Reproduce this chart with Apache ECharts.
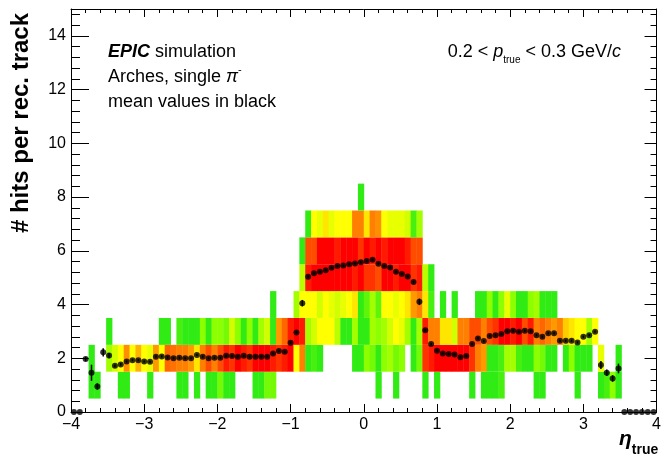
<!DOCTYPE html>
<html><head><meta charset="utf-8">
<script src="https://cdn.jsdelivr.net/npm/echarts@6/dist/echarts.min.js"></script>
<style>html,body{margin:0;padding:0;background:#fff}#c{width:664px;height:460px}</style>
</head><body><div id="c"></div>
<script>
const _ = null;
// x binning of the 2D histogram / profile (eta_true)
const binLow = -4, binWidth = 0.08;
// y rows (number of hits), cells centred on integers
const rowHits = [1, 2, 3, 4, 5, 6, 7, 8];

// relative cell occupancy (0 = green ... 1 = red), one array per hit row, 100 eta bins
const row1 = [
 _,_,_,.05,.05,_,_,_,.05,.05,
 _,_,_,.05,_,_,_,_,.05,.05,
 _,.05,_,.05,.05,.2,.05,.05,_,_,
 _,.05,.05,.2,.2,_,_,_,_,_,
 _,_,_,_,_,_,_,_,_,_,
 _,_,.05,_,_,.05,_,_,_,_,
 .05,_,.05,_,_,_,_,_,.05,_,
 .05,.05,.05,.1,_,_,_,_,_,.05,
 .05,_,_,_,_,_,.05,_,_,_,
 .05,.1,.25,.05,_,_,_,_,_,_];
const row2 = [
 _,_,_,.05,_,_,.3,.4,.5,.72,
 .5,.65,.5,.45,.7,.5,.8,.78,.75,.75,
 .7,.55,.75,.85,.75,.85,.95,.9,1,.95,
 .9,1,1,1,.95,.9,.95,1,.5,.75,
 .05,.1,.05,_,_,_,_,_,.05,.05,
 .25,.2,.05,.25,.3,.2,.25,_,.05,.2,
 .9,.95,1,1,1,1,1,1,.9,.75,
 .7,.05,.05,.1,.3,.3,.1,.05,.05,.25,
 .2,.05,.05,_,.05,.25,.05,.05,.05,_,
 .45,_,_,.05,_,_,_,_,_,_];
const row3 = [
 _,_,_,_,_,_,.05,_,_,_,
 _,_,_,_,_,.05,.05,_,.1,.05,
 .05,.05,.25,.05,.25,.25,.2,.4,.25,.05,
 .25,.05,.3,.4,.05,.7,.8,.95,1,.95,
 .3,.4,.5,.5,.5,.35,.05,.05,.3,.05,
 .05,.3,.25,.3,.4,.5,.45,.3,.05,.3,
 .95,.75,.75,.55,.55,.4,.75,.75,.85,.85,
 .75,.85,.9,1,1,.95,1,.85,.95,.75,
 .8,.75,.7,.75,.6,.55,.5,.5,.3,.5,
 _,_,_,_,_,_,_,_,_,_];
const row4 = [
 _,_,_,_,_,_,_,_,_,_,
 _,_,_,_,_,_,_,_,_,_,
 _,_,_,_,_,_,_,_,_,_,
 _,_,_,_,.05,_,_,_,.3,.5,
 .5,.5,.4,.5,.45,.4,.45,.5,.55,.05,
 .15,.3,.15,.5,.5,.45,.5,.55,.7,.75,
 .55,.1,_,.05,_,.05,_,_,_,.05,
 .05,.25,.05,.25,.45,.25,.05,.05,.25,.3,
 .05,.05,.05,_,_,_,_,_,_,_,
 _,_,_,_,_,_,_,_,_,_];
const row5 = [
 _,_,_,_,_,_,_,_,_,_,
 _,_,_,_,_,_,_,_,_,_,
 _,_,_,_,_,_,_,_,_,_,
 _,_,_,_,_,_,_,_,_,.35,
 .95,1,1,1,1,1,1,1,.95,1,
 .9,.9,.85,1,1,.95,1,1,.9,.95,
 .35,.05,_,_,_,_,_,_,_,_,
 _,_,_,_,_,_,_,_,_,_,
 _,_,_,_,_,_,_,_,_,_,
 _,_,_,_,_,_,_,_,_,_];
const row6 = [
 _,_,_,_,_,_,_,_,_,_,
 _,_,_,_,_,_,_,_,_,_,
 _,_,_,_,_,_,_,_,_,_,
 _,_,_,_,_,_,_,_,_,.05,
 .85,.85,1,1,1,.95,1,1,1,.9,
 1,.95,1,.95,1,1,1,.95,.85,.85,
 _,_,_,_,_,_,_,_,_,_,
 _,_,_,_,_,_,_,_,_,_,
 _,_,_,_,_,_,_,_,_,_,
 _,_,_,_,_,_,_,_,_,_];
const row7 = [
 _,_,_,_,_,_,_,_,_,_,
 _,_,_,_,_,_,_,_,_,_,
 _,_,_,_,_,_,_,_,_,_,
 _,_,_,_,_,_,_,_,_,_,
 .05,.5,.45,.55,.45,.5,.5,.5,.75,.75,
 .55,.75,.72,.5,.45,.45,.45,.4,.1,.3,
 _,_,_,_,_,_,_,_,_,_,
 _,_,_,_,_,_,_,_,_,_,
 _,_,_,_,_,_,_,_,_,_,
 _,_,_,_,_,_,_,_,_,_];
const row8 = [
 _,_,_,_,_,_,_,_,_,_,
 _,_,_,_,_,_,_,_,_,_,
 _,_,_,_,_,_,_,_,_,_,
 _,_,_,_,_,_,_,_,_,_,
 _,_,_,_,_,_,_,_,_,.05,
 _,_,_,_,_,_,_,_,_,_,
 _,_,_,_,_,_,_,_,_,_,
 _,_,_,_,_,_,_,_,_,_,
 _,_,_,_,_,_,_,_,_,_,
 _,_,_,_,_,_,_,_,_,_];

// profile: mean hits per eta bin and its error
const meanHits = [
 0,0,1.97,1.46,0.95,2.22,2.10,1.72,1.77,1.88,
 1.93,1.93,1.88,1.87,2.06,2.07,2.03,2.00,2.02,2.00,
 2.00,2.12,2.06,2.00,2.02,2.02,2.09,2.08,2.06,2.09,
 2.06,2.06,2.06,2.06,2.18,2.27,2.24,2.58,2.96,4.05,
 5.03,5.16,5.22,5.28,5.37,5.43,5.45,5.50,5.53,5.57,
 5.62,5.67,5.52,5.43,5.38,5.22,5.14,5.04,4.84,4.10,
 3.04,2.53,2.28,2.18,2.16,2.14,2.04,2.08,2.53,2.74,
 2.64,2.83,2.86,2.90,3.01,3.02,2.99,3.02,3.01,2.86,
 2.80,2.93,2.93,2.65,2.65,2.65,2.59,2.80,2.86,2.99,
 1.75,1.46,1.25,1.62,0,0,0,0,0,0];
const meanErr = [
 0,0,.08,.3,.12,.15,.1,.05,.05,.04,
 .04,.04,.04,.04,.04,.04,.04,.04,.04,.04,
 .04,.04,.04,.04,.04,.04,.04,.04,.04,.04,
 .04,.04,.04,.04,.04,.04,.04,.05,.06,.12,
 .05,.04,.04,.04,.04,.04,.04,.04,.04,.04,
 .04,.04,.04,.04,.04,.04,.04,.04,.05,.12,
 .06,.05,.04,.04,.04,.04,.04,.04,.04,.04,
 .04,.04,.04,.04,.04,.04,.04,.04,.04,.04,
 .04,.04,.04,.04,.04,.04,.04,.04,.04,.04,
 .15,.12,.12,.18,0,0,0,0,0,0];

const yTicks = [0, 2, 4, 6, 8, 10, 12, 14];
const xTicks = [-4, -3, -2, -1, 0, 1, 2, 3, 4];

const rows = [row1, row2, row3, row4, row5, row6, row7, row8];
const cells = [];
rows.forEach((row, r) => {
  const k = rowHits[r];
  row.forEach((v, j) => {
    if (v !== null) cells.push([binLow + j * binWidth, binLow + (j + 1) * binWidth, k, v]);
  });
});
const means = meanHits.map((m, j) => [binLow + (j + 0.5) * binWidth, m, meanErr[j]]);

const FONT = '"Liberation Sans", Arial, Helvetica, sans-serif';
const ctx = document.createElement('canvas').getContext('2d');
function seg(s) {
  return { font: (s.style || 'normal') + ' ' + (s.weight || 'normal') + ' ' + s.size + 'px ' + FONT };
}
function runText(x, yMid, segs, anchor) {
  let widths = segs.map(s => { ctx.font = seg(s).font; return ctx.measureText(s.t).width; });
  let total = widths.reduce((a, b) => a + b, 0);
  let cx = anchor === 'right' ? x - total : x;
  const els = [];
  segs.forEach((s, i) => {
    els.push({ type: 'text', x: cx, y: yMid + (s.dy || 0), z: 100,
      style: { text: s.t, fontSize: s.size, fontFamily: FONT, fontWeight: s.weight || 'normal',
        fontStyle: s.style || 'normal', fill: '#000', align: 'left', verticalAlign: 'middle' } });
    cx += widths[i];
  });
  return els;
}
const fmtX = v => (v < 0 ? '\u2212' + (-v) : String(v));

const graphics = [].concat(
  runText(108, 52, [{ t: 'EPIC', size: 18, weight: 'bold', style: 'italic' }, { t: ' simulation', size: 18 }]),
  runText(108, 77, [{ t: 'Arches, single ', size: 18 }, { t: 'π', size: 18, style: 'italic' }, { t: '-', size: 11, dy: -7 }]),
  runText(108, 102, [{ t: 'mean values in black', size: 18 }]),
  runText(621, 52, [{ t: '0.2 < ', size: 18 }, { t: 'p', size: 18, style: 'italic' }, { t: 'true', size: 10, dy: 8 },
    { t: ' < 0.3 GeV/', size: 18 }, { t: 'c', size: 18, style: 'italic' }], 'right'),
  runText(619, 439, [{ t: 'η', size: 21, weight: 'bold', style: 'italic' }, { t: 'true', size: 14, weight: 'bold', dy: 11 }]),
  [{ type: 'text', x: 21, y: 123, rotation: Math.PI / 2, z: 100,
     style: { text: '# hits per rec. track', fontSize: 24, fontWeight: 'bold', fontFamily: FONT,
       fill: '#000', align: 'center', verticalAlign: 'middle' } }]
);

const lineBlack = { color: '#000', width: 1 };
function xAx(pos, labels) {
  return { type: 'value', min: -4, max: 4, interval: 1, position: pos,
    axisLine: { show: true, onZero: false, lineStyle: lineBlack },
    axisTick: { show: true, inside: true, length: 8, lineStyle: lineBlack },
    minorTick: { show: true, splitNumber: 5, length: 4, lineStyle: lineBlack },
    splitLine: { show: false }, minorSplitLine: { show: false },
    axisLabel: { show: labels, margin: 5, fontSize: 16, fontFamily: FONT, color: '#000',
      formatter: v => (xTicks.indexOf(v) >= 0 ? fmtX(v) : '') } };
}
function yAx(pos, labels, major, minor) {
  return { type: 'value', min: 0, max: 15, interval: 2, position: pos,
    axisLine: { show: true, onZero: false, lineStyle: lineBlack },
    axisTick: { show: true, inside: true, length: major, lineStyle: lineBlack },
    minorTick: { show: true, splitNumber: 5, length: minor, lineStyle: lineBlack },
    splitLine: { show: false }, minorSplitLine: { show: false },
    axisLabel: { show: labels, margin: 5, fontSize: 16, fontFamily: FONT, color: '#000', showMaxLabel: false,
      formatter: v => (yTicks.indexOf(v) >= 0 ? String(v) : '') } };
}

const chart = echarts.init(document.getElementById('c'), null, { renderer: 'canvas' });
chart.setOption({
  animation: false,
  backgroundColor: '#fff',
  grid: { left: 71, right: 7, top: 9, bottom: 48, containLabel: false },
  xAxis: [xAx('bottom', true), xAx('top', false)],
  yAxis: [yAx('left', true, 18, 9), yAx('right', false, 12, 6)],
  visualMap: { show: false, type: 'continuous', min: 0, max: 1, dimension: 3, seriesIndex: 0,
    inRange: { color: ['#19e619', '#8cff00', '#ffff00', '#ff8000', '#ff0000'] } },
  graphic: graphics,
  series: [
    { type: 'custom', xAxisIndex: 0, yAxisIndex: 0, clip: true, z: 1,
      encode: { x: [0, 1], y: 2 },
      renderItem: (params, api) => {
        const p0 = api.coord([api.value(0), api.value(2) + 0.5]);
        const p1 = api.coord([api.value(1), api.value(2) - 0.5]);
        return { type: 'rect', shape: { x: p0[0], y: p0[1], width: p1[0] - p0[0] + 0.4, height: p1[1] - p0[1] },
          style: { fill: api.visual('color'), stroke: null } };
      },
      data: cells },
    { type: 'custom', xAxisIndex: 0, yAxisIndex: 0, z: 3,
      encode: { x: 0, y: 1 },
      renderItem: (params, api) => {
        const top = api.coord([api.value(0), api.value(1) + api.value(2)]);
        const bot = api.coord([api.value(0), api.value(1) - api.value(2)]);
        return { type: 'line', shape: { x1: top[0], y1: top[1], x2: bot[0], y2: bot[1] },
          style: { stroke: '#000', lineWidth: 1.5 } };
      },
      data: means },
    { type: 'scatter', xAxisIndex: 0, yAxisIndex: 0, z: 4, symbol: 'circle', symbolSize: 6,
      itemStyle: { color: '#000' }, data: means.map(m => [m[0], m[1]]) }
  ]
});
</script></body></html>
